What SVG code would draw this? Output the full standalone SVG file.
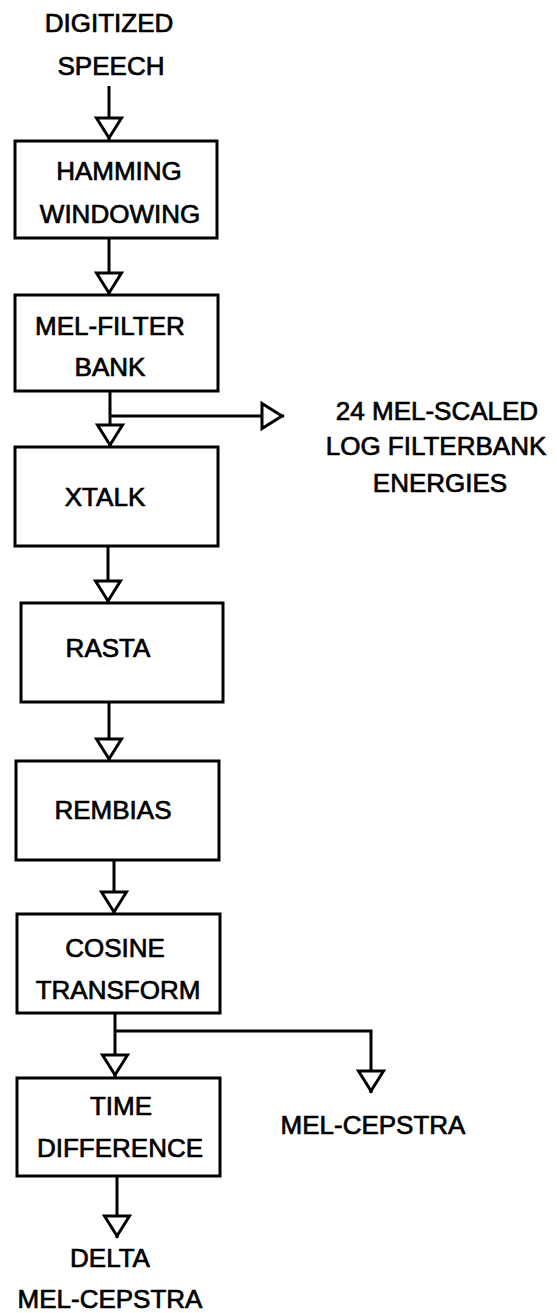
<svg xmlns="http://www.w3.org/2000/svg" width="557" height="1313" viewBox="0 0 557 1313">
<style>
.t{font-family:"Liberation Sans",Arial,Helvetica,sans-serif;font-size:26px;fill:#000;stroke:#000;stroke-width:0.7;text-anchor:middle}
.box{fill:#fff;stroke:#000;stroke-width:3}
.ln{fill:none;stroke:#000;stroke-width:3;stroke-linejoin:miter}
</style>
<defs>
<marker id="tri" markerUnits="userSpaceOnUse" viewBox="-3 -16 28 32" refX="22" refY="0" markerWidth="28" markerHeight="32" orient="auto">
<path d="M0,-12.5 L20,0 L0,12.5 Z" fill="#fff" stroke="#000" stroke-width="3" stroke-linejoin="miter"/>
</marker>
</defs>
<rect width="557" height="1313" fill="#fff"/>
<g id="connectors">
<path class="ln" d="M109,86 V140" marker-end="url(#tri)"/>
<path class="ln" d="M109,238 V295" marker-end="url(#tri)"/>
<path class="ln" d="M110,391 V447" marker-end="url(#tri)"/>
<path class="ln" d="M110,416 H284" marker-end="url(#tri)"/>
<path class="ln" d="M108,546 V603" marker-end="url(#tri)"/>
<path class="ln" d="M109,702 V761" marker-end="url(#tri)"/>
<path class="ln" d="M114,860 V914" marker-end="url(#tri)"/>
<path class="ln" d="M115,1013 V1077" marker-end="url(#tri)"/>
<path class="ln" d="M115,1031 H371 V1093" marker-end="url(#tri)"/>
<path class="ln" d="M117,1176 V1238" marker-end="url(#tri)"/>
</g>
<g id="input">
<text class="t" x="109" y="32">DIGITIZED</text>
<text class="t" x="111" y="75">SPEECH</text>
</g>
<g id="hamming">
<rect class="box" x="15" y="141" width="202" height="97"/>
<text class="t" x="119" y="180">HAMMING</text>
<text class="t" x="120" y="223">WINDOWING</text>
</g>
<g id="melfilter">
<rect class="box" x="15" y="295" width="203" height="96"/>
<text class="t" x="110" y="335">MEL-FILTER</text>
<text class="t" x="110" y="376">BANK</text>
</g>
<g id="energies">
<text class="t" x="437" y="420">24 MEL-SCALED</text>
<text class="t" x="436" y="455">LOG FILTERBANK</text>
<text class="t" x="440" y="492">ENERGIES</text>
</g>
<g id="xtalk">
<rect class="box" x="15" y="447" width="203" height="99"/>
<text class="t" x="105" y="506">XTALK</text>
</g>
<g id="rasta">
<rect class="box" x="21" y="603" width="202" height="99"/>
<text class="t" x="108" y="657">RASTA</text>
</g>
<g id="rembias">
<rect class="box" x="16" y="761" width="203" height="99"/>
<text class="t" x="113" y="819">REMBIAS</text>
</g>
<g id="cosine">
<rect class="box" x="17" y="914" width="203" height="99"/>
<text class="t" x="115" y="957">COSINE</text>
<text class="t" x="118" y="999">TRANSFORM</text>
</g>
<g id="melcepstra">
<text class="t" x="373" y="1134">MEL-CEPSTRA</text>
</g>
<g id="timediff">
<rect class="box" x="17" y="1078" width="203" height="98"/>
<text class="t" x="121" y="1115">TIME</text>
<text class="t" x="120" y="1157">DIFFERENCE</text>
</g>
<g id="delta">
<text class="t" x="110" y="1267">DELTA</text>
<text class="t" x="110" y="1308">MEL-CEPSTRA</text>
</g>
</svg>
